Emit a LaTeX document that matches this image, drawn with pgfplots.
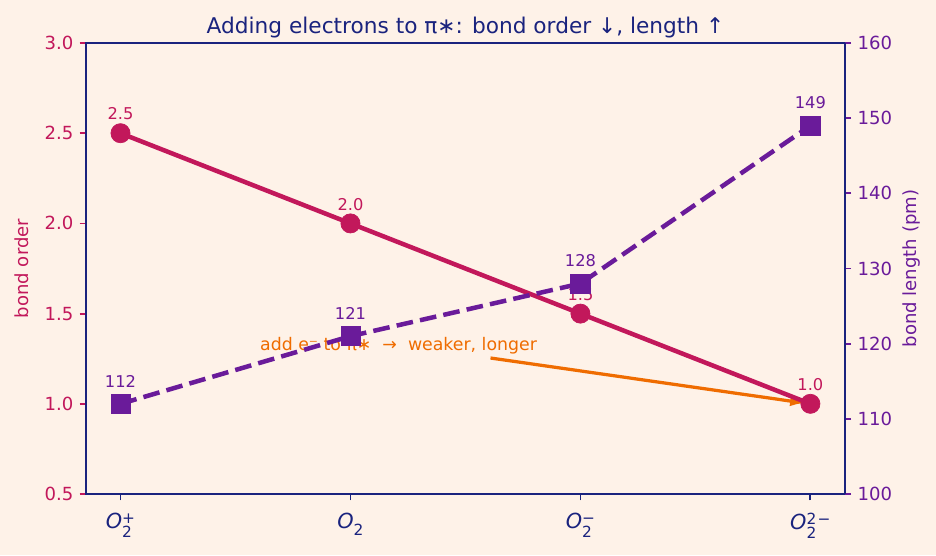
\documentclass[border=0pt]{standalone}
\usepackage{pgfplots}
\pgfplotsset{compat=1.18}
\usepackage{fontspec}
\setmainfont{DejaVu Sans}
\usetikzlibrary{arrows.meta}

\definecolor{bg}{HTML}{FEF2E8}
\definecolor{crimson}{HTML}{C2185B}
\definecolor{grape}{HTML}{6A1B9A}
\definecolor{amber}{HTML}{EF6C00}
\definecolor{navy}{HTML}{1A237E}

% oxygen species labels: italic O, subscript 2, optional charge
\newcommand\idx{\fontsize{8.5bp}{8.5bp}\selectfont\upshape}
\newcommand\oxy[1]{\textit{O}\makebox[0pt][l]{\raisebox{-5bp}{\idx 2}}\raisebox{2.8bp}{\idx #1}}
\newcommand\oxyn{\textit{O}\raisebox{-4bp}{\idx 2}}

\pgfplotstableread{
x order length
0 2.5 112
1 2.0 121
2 1.5 128
3 1.0 149
}\oxygen

\begin{document}
\begin{tikzpicture}
\path[fill=bg, use as bounding box] (-47.63bp,-33.78bp) rectangle ++(518.4bp,307.4bp);

\pgfplotsset{
  common/.style={
    at={(0,0)}, anchor=south west,
    scale only axis, width=420.3bp, height=249.8bp,
    xmin=-0.15, xmax=3.15,
    tick align=outside, major tick length=3.5bp,
    /pgf/number format/assume math mode=true,
    axis line style={navy, line width=1bp},
    clip=false,
  }
}

% bond order (left axis)
\begin{axis}[
  common,
  ymin=0.5, ymax=3.0,
  ytick={0.5,1.0,1.5,2.0,2.5,3.0},
  xtick={0,1,2,3},
  xticklabels={\oxy{+}, \oxyn, \oxy{−}, \oxy{2\kern0.8bp−}},
  tick pos=left,
  x tick style={navy, line width=1bp},
  y tick style={crimson, line width=1bp},
  xticklabel style={navy, font=\fontsize{11.5bp}{13bp}\selectfont, yshift=-3.5bp},
  yticklabel style={crimson, font=\fontsize{10bp}{12bp}\selectfont,
    /pgf/number format/.cd, fixed, fixed zerofill, precision=1},
  ylabel={bond order},
  ylabel style={crimson, font=\fontsize{10bp}{12bp}\selectfont,
    at={(axis description cs:-0.0842,0.5)}, anchor=center, rotate=0},
  title={Adding electrons to π∗: bond order ↓, length ↑},
  every axis title shift=0pt,
  title style={navy, font=\fontsize{12bp}{14bp}\selectfont,
    at={(axis description cs:0.5,1)}, anchor=base, yshift=5.5bp},
]
\draw[amber, line width=1.8bp, -{Latex[length=8bp, width=6bp]}]
  (axis cs:1.609,1.254) -- (axis cs:2.975,1.004);
\node[amber, font=\fontsize{9.6bp}{11bp}\selectfont]
  at (axis cs:1.209,1.320) {add e⁻ to π∗\ \ →\ \ weaker, longer};
\addplot[crimson, line width=2.5bp, mark=*, mark size=5.3bp,
  mark options={solid, fill=crimson, line width=0.4bp},
  nodes near coords={\pgfmathprintnumber[fixed, fixed zerofill, precision=1]{\pgfplotspointmeta}},
  point meta=explicit,
  every node near coord/.append style={crimson, anchor=south, inner sep=0pt,
    yshift=7bp, font=\fontsize{9bp}{11bp}\selectfont}]
  table[x=x, y=order, meta=order] {\oxygen};
\end{axis}

% bond length (right axis)
\begin{axis}[
  common,
  ymin=100, ymax=160,
  ytick={100,110,...,160},
  axis x line=none,
  axis y line*=right,
  y tick style={grape, line width=1bp},
  yticklabel style={grape, font=\fontsize{10bp}{12bp}\selectfont},
  ylabel={bond length (pm)},
  ylabel style={grape, font=\fontsize{10bp}{12bp}\selectfont,
    at={(axis description cs:1.0883,0.5)}, anchor=center, rotate=0},
]
\addplot[grape, line width=2.5bp, dash pattern=on 9.25bp off 4bp,
  mark=square*, mark size=5.3bp,
  mark options={solid, fill=grape, line width=0.4bp},
  nodes near coords={\pgfmathprintnumber[fixed, precision=0]{\pgfplotspointmeta}},
  point meta=explicit,
  every node near coord/.append style={grape, anchor=south, inner sep=0pt,
    yshift=9bp, font=\fontsize{9bp}{11bp}\selectfont}]
  table[x=x, y=length, meta=length] {\oxygen};
\end{axis}
\end{tikzpicture}
\end{document}
